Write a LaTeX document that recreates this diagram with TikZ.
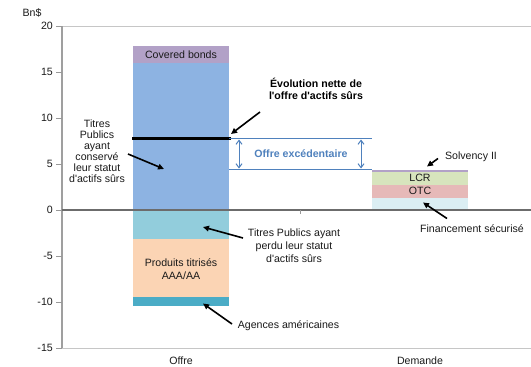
\documentclass[tikz,border=0pt]{standalone}
\usepackage{fontspec}
\setmainfont{Liberation Sans}[Ligatures=TeXOff]
\usetikzlibrary{arrows.meta}
\definecolor{govblue}{HTML}{8DB3E2}
\definecolor{cbpurple}{HTML}{B2A1C7}
\definecolor{lostteal}{HTML}{92CDDC}
\definecolor{peach}{HTML}{FBD4B4}
\definecolor{darkteal}{HTML}{4BACC6}
\definecolor{finblue}{HTML}{DBEEF3}
\definecolor{otcpink}{HTML}{E6B9B8}
\definecolor{lcrgreen}{HTML}{D7E4BD}
\definecolor{excblue}{HTML}{4F81BD}
\definecolor{txt}{HTML}{1A1A1A}
\tikzset{
  lbl/.style={font=\fontsize{10.6}{13}\selectfont, text=txt, inner sep=0pt, align=center},
  tightlbl/.style={font=\fontsize{10.6}{11}\selectfont, text=txt, inner sep=0pt, align=center},
  boldlbl/.style={font=\fontsize{10.6}{12.3}\selectfont\bfseries, text=black, inner sep=0pt, align=center},
  ptr/.style={line width=1.6pt, black, -{Triangle[length=6pt,width=5.5pt]}},
  excline/.style={draw=excblue, line width=0.9pt},
  excarrow/.style={draw=excblue, line width=1pt, {Straight Barb[length=4pt,width=6pt]}-{Straight Barb[length=4pt,width=6pt]}},
  tick/.style={draw=gray!80, line width=0.8pt}
}
\begin{document}
\begin{tikzpicture}[x=1pt,y=-1pt]
\useasboundingbox (0,0) rectangle (531,367);
\fill[white] (0,0) rectangle (531,367);
% plot frame lines
\draw[gray!45, line width=1pt] (62,26) -- (531,26);
\draw[gray!45, line width=1pt] (62,348) -- (531,348);
% Offre bar
\fill[govblue] (133,210) rectangle (229,63);
\fill[cbpurple] (133,63) rectangle (229,46);
\fill[lostteal] (133,210) rectangle (229,238.5);
\fill[peach] (133,238.5) rectangle (229,296.5);
\fill[darkteal] (133,296.5) rectangle (229,305.5);
\draw[black, line width=2.6pt] (132,138.5) -- (231,138.5);
% Demande bar
\fill[finblue] (372,210) rectangle (468,197.5);
\fill[otcpink] (372,197.5) rectangle (468,185);
\fill[lcrgreen] (372,185) rectangle (468,171.5);
\fill[cbpurple] (372,171.5) rectangle (468,169.5);
% axes
\draw[gray!75, line width=1.6pt] (62,26) -- (62,348);
\foreach \k/\v in {0/20,1/15,2/10,3/5,4/0,5/-5,6/-10,7/-15}{
  \draw[tick] (56,26+46*\k) -- (62,26+46*\k);
  \node[lbl, anchor=east] (t\k) at (53,26+46*\k) {\v};
}
\draw[gray!85!black, line width=1.8pt] (62,210) -- (531,210);
\draw[tick] (300,210) -- (300,214);
\node[lbl] (unit) at (32,13) {Bn\$};
\node[lbl] (offre) at (181,361) {Offre};
\node[lbl] (demande) at (420,361) {Demande};
% bar labels
\node[lbl] (covered) at (181,55) {Covered bonds};
\node[lbl] (produits) at (181,269.5) {Produits titrisés\\AAA/AA};
\node[lbl] (lcr) at (420,178) {LCR};
\node[lbl] (otc) at (420,191) {OTC};
% excess supply
\coordinate (exTL) at (229,138.5);
\coordinate (exTR) at (372,138.5);
\coordinate (exBL) at (229,169.5);
\coordinate (exBR) at (372,169.5);
\draw[excline] (exTL) -- (exTR);
\draw[excline] (exBL) -- (exBR);
\coordinate (a1t) at (239,139.5);
\coordinate (a1b) at (239,168.5);
\coordinate (a2t) at (361,139.5);
\coordinate (a2b) at (361,168.5);
\draw[excarrow] (a1t) -- (a1b);
\draw[excarrow] (a2t) -- (a2b);
\node[boldlbl, text=excblue] (exc) at (301,154) {Offre excédentaire};
% annotations
\node[boldlbl] (evol) at (316,89) {Évolution nette de\\l'offre d'actifs sûrs};
\coordinate (evolT) at (260,112);
\coordinate (evolH) at (231,134);
\draw[ptr] (evolT) -- (evolH);

\node[tightlbl] (conserve) at (97,151.5) {Titres\\Publics\\ayant\\conservé\\leur statut\\d'actifs sûrs};
\coordinate (consT) at (128,154);
\coordinate (consH) at (164,169);
\draw[ptr] (consT) -- (consH);

\node[lbl] (perdu) at (294,245.5) {Titres Publics ayant\\perdu leur statut\\d'actifs sûrs};
\coordinate (perdT) at (243,238);
\coordinate (perdH) at (203,227);
\draw[ptr] (perdT) -- (perdH);

\node[lbl] (agences) at (288.5,325.5) {Agences américaines};
\coordinate (agT) at (232,324);
\coordinate (agH) at (203,303.5);
\draw[ptr] (agT) -- (agH);

\node[lbl] (solv) at (471,157) {Solvency II};
\coordinate (solT) at (438,158.5);
\coordinate (solH) at (427,166.5);
\draw[ptr] (solT) -- (solH);

\node[lbl] (fin) at (472,229) {Financement sécurisé};
\coordinate (finT) at (447,218.5);
\coordinate (finH) at (423,202.5);
\draw[ptr] (finT) -- (finH);
\end{tikzpicture}
\end{document}
